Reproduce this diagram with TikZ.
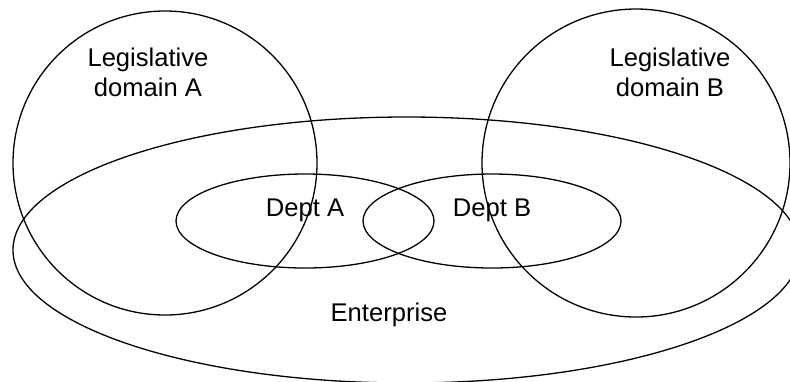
\documentclass[tikz,border=0pt]{standalone}
\usepackage{fontspec}
\setmainfont{Liberation Sans}
\usepackage{tikz}

\begin{document}
\begin{tikzpicture}[x=0.5pt, y=-0.5pt,
    outline/.style={draw=black, line width=0.65pt},
    label/.style={align=center, inner sep=0pt, font=\fontsize{12.8}{15}\selectfont}]
    % Fix the page to the picture size
    \useasboundingbox (0,0) rectangle (790,381);

    % Draw the two legislative domains
    \draw[outline] (165,163) circle (152);
    \draw[outline] (636,163) circle (154);

    % Draw the enterprise
    \draw[outline] (406.5,250) ellipse (393.5 and 133);

    % Draw the two departments
    \draw[outline] (305,221) ellipse (129 and 47);
    \draw[outline] (492,221) ellipse (129 and 47);

    % Add the labels
    \node[label] (domA) at (148,72) {Legislative\\domain A};
    \node[label] (domB) at (670,72) {Legislative\\domain B};
    \node[label] (deptA) at (305,210) {Dept A};
    \node[label] (deptB) at (492,210) {Dept B};
    \node[label] (ent) at (389,315) {Enterprise};
\end{tikzpicture}
\end{document}
